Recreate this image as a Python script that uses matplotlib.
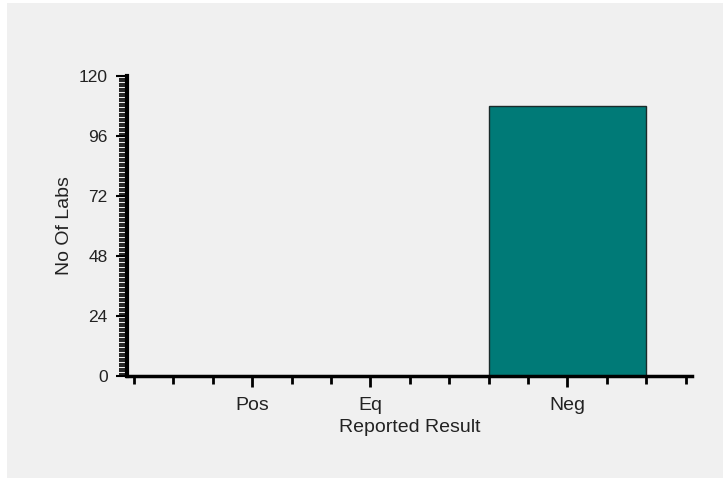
import numpy as np
import matplotlib
matplotlib.use("Agg")
import matplotlib.pyplot as plt
from matplotlib.ticker import MultipleLocator

# data
categories = ["Pos", "Eq", "Neg"]
cat_pos = [3, 6, 11]
labs = [0, 0, 108]
bar_widths = [4, 4, 4]

plt.rcParams['font.family'] = ['Liberation Sans', 'DejaVu Sans']
txt = "#222222"

fig = plt.figure(figsize=(7.23, 4.78), dpi=100)
fig.patch.set_facecolor("white")
# gray panel with a thin white margin on left and top
fig.patches.append(plt.Rectangle((7 / 723, 0), 1, 1 - 3 / 478, transform=fig.transFigure,
                                 facecolor="#f0f0f0", edgecolor="none", zorder=-10))

ax = fig.add_axes([127 / 723, (478 - 376) / 478, (692 - 127) / 723, (376 - 76) / 478])
ax.set_facecolor("none")

for p, v, w in zip(cat_pos, labs, bar_widths):
    if v > 0:
        ax.bar(p, v, width=w, color="#007a77", edgecolor="#1a2a2a", linewidth=1, zorder=2)

ax.set_xlim(-0.18, 14.16)
ax.set_ylim(0, 120)

ax.spines["top"].set_visible(False)
ax.spines["right"].set_visible(False)
ax.spines["left"].set_linewidth(3)
ax.spines["bottom"].set_linewidth(2.5)

ax.set_xticks(cat_pos)
ax.set_xticklabels(categories)
ax.set_xticks(np.arange(0, 15), minor=True)
ax.yaxis.set_major_locator(MultipleLocator(24))
ax.yaxis.set_minor_locator(MultipleLocator(1))

ax.tick_params(axis="x", which="major", length=8, width=2, direction="out", pad=7,
               labelsize=14, labelcolor=txt)
ax.tick_params(axis="x", which="minor", length=6, width=2, direction="out")
ax.tick_params(axis="y", which="major", length=8, width=1.5, direction="out", pad=6,
               labelsize=12.5, labelcolor=txt)
ax.tick_params(axis="y", which="minor", length=6, width=1.2, direction="out")

ax.set_xlabel("Reported Result", fontsize=14, labelpad=4, color=txt)
ax.set_ylabel("No Of Labs", fontsize=14, labelpad=4, color=txt)

fig.savefig("out.png", dpi=100, facecolor=fig.get_facecolor())
